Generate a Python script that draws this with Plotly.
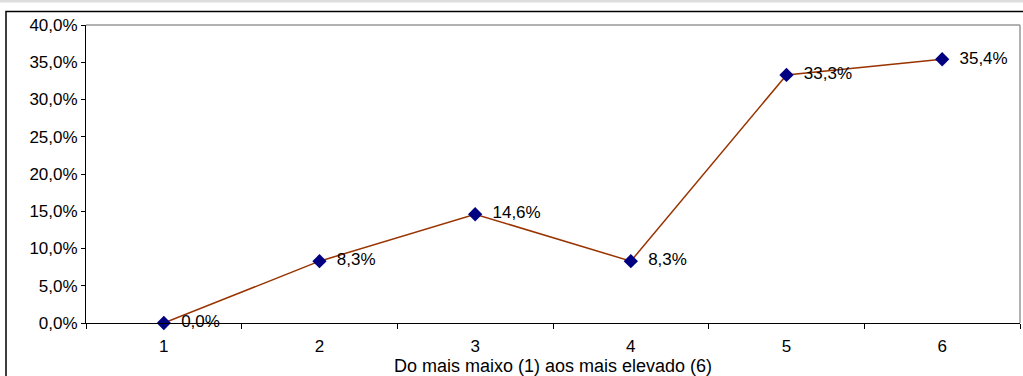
import plotly.graph_objects as go

categories = ["1", "2", "3", "4", "5", "6"]
values = [0.0, 0.083, 0.146, 0.083, 0.333, 0.354]
labels = ["0,0%", "8,3%", "14,6%", "8,3%", "33,3%", "35,4%"]
y_ticks = [0, 0.05, 0.10, 0.15, 0.20, 0.25, 0.30, 0.35, 0.40]
x_title = "Do mais maixo (1) aos mais elevado (6)"

W, H = 1023, 376
L, R, T, B = 86, 3, 25, 53
pw, ph = W - L - R, H - T - B

xpos = list(range(len(categories)))

font = dict(family="Liberation Sans, Arial", size=17, color="black")
title_font = dict(family="Liberation Sans, Arial", size=18, color="black")

fig = go.Figure()
fig.add_trace(go.Scatter(
    x=xpos, y=values, mode="lines+markers+text",
    text=["  " + t for t in labels], textposition="middle right",
    textfont=font,
    line=dict(color="#993300", width=1.5),
    marker=dict(symbol="diamond", size=11, color="#000080"),
    cliponaxis=False, hoverinfo="skip",
))

fig.update_layout(
    width=W, height=H,
    margin=dict(l=L, r=R, t=T, b=B),
    paper_bgcolor="white", plot_bgcolor="white",
    separators=",.",
    showlegend=False,
    font=font,
    xaxis=dict(
        range=[-0.5, len(categories) - 0.5], tickvals=xpos, ticktext=categories,
        ticks="", showgrid=False, zeroline=False, showline=True,
        linecolor="black", linewidth=1,
        minor=dict(tickvals=[i - 0.5 for i in range(len(categories) + 1)],
                   ticks="outside", ticklen=5, tickcolor="black", showgrid=False),
        tickfont=font, ticklabelstandoff=8,
        title=dict(text=x_title, font=title_font, standoff=0),
    ),
    yaxis=dict(
        range=[0, 0.40], tickvals=y_ticks, tickformat=".1%",
        ticks="outside", ticklen=4, tickcolor="black",
        showgrid=False, zeroline=False, showline=True,
        linecolor="black", linewidth=1, tickfont=font,
    ),
    shapes=[
        dict(type="line", xref="paper", yref="paper", x0=0, x1=1, y0=1, y1=1,
             line=dict(color="#999999", width=1.5)),
        dict(type="line", xref="paper", yref="paper", x0=1, x1=1, y0=0, y1=1,
             line=dict(color="#999999", width=1.5)),
        dict(type="rect", xref="paper", yref="paper",
             x0=(6 - L) / pw, x1=(W + 10 - L) / pw,
             y0=-(H + 10 - T - ph) / ph, y1=1 + (T - 11.5) / ph,
             line=dict(color="black", width=1.5), fillcolor="rgba(0,0,0,0)",
             layer="below"),
        dict(type="rect", xref="paper", yref="paper",
             x0=-L / pw, x1=(W - L) / pw,
             y0=1 + (T - 2.5) / ph, y1=1 + T / ph,
             line=dict(width=0), fillcolor="#dddddd", layer="below"),
    ],
)

fig.write_html("out.html", config={"displayModeBar": False},
               post_script="document.body.style.margin='0';")
